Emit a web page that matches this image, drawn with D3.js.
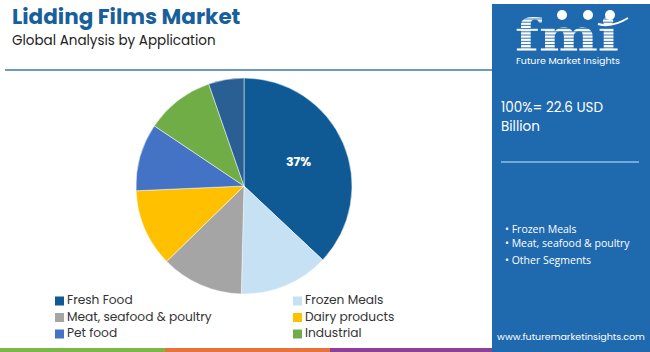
<!DOCTYPE html>
<html>
<head>
<meta charset="utf-8">
<script src="https://cdn.jsdelivr.net/npm/d3@7"></script>
<style>
  body { margin: 0; background: white; }
  svg { display: block; font-family: Poppins, "Open Sans", "DejaVu Sans", sans-serif; }
</style>
</head>
<body>
<div id="container"></div>
<script>
let w = 650;
let h = 352;

// values (share of 22.6 USD bn)
let segments = ["Fresh Food", "Frozen Meals", "Meat, seafood & poultry", "Dairy products", "Pet food", "Industrial", "Others"];
let shares = [37, 13.4, 12.3, 11.6, 10.1, 10.3, 5.3];
let colors = ["#0f5a94", "#c5e1f3", "#a5a5a5", "#ffc000", "#4473c5", "#70ad47", "#2a5f93"];
let legendItems = ["Fresh Food", "Frozen Meals", "Meat, seafood & poultry", "Dairy products", "Pet food", "Industrial"];
let bullets = ["Frozen Meals", "Meat, seafood & poultry", "Other Segments"];

let data = segments.map((s, i) => ({name: s, value: shares[i], color: colors[i]}));

let viz = d3.select("#container").append("svg")
              .attr("width", w)
              .attr("height", h)
;

// title
viz.append("text")
      .text("Lidding Films Market")
      .attr("x", 12).attr("y", 24)
      .attr("font-size", 21.5).attr("font-weight", "bold")
      .attr("fill", "#17609b")
;
viz.append("text")
      .text("Global Analysis by Application")
      .attr("x", 12).attr("y", 45)
      .attr("font-size", 13.5)
      .attr("fill", "#222")
;
viz.append("line")
      .attr("x1", 5).attr("x2", 493).attr("y1", 70).attr("y2", 70)
      .attr("stroke", "#3b78ad").attr("stroke-width", 1.5)
;

// pie
let cx = 244, cy = 186, r = 108;
let pie = d3.pie().value(d => d.value).sort(null);
let arc = d3.arc().innerRadius(0).outerRadius(r);
let g = viz.append("g").attr("transform", `translate(${cx},${cy})`);
let arcs = pie(data);
g.selectAll("path").data(arcs).enter()
    .append("path")
    .attr("d", arc)
    .attr("fill", d => d.data.color)
    .attr("stroke", "white")
    .attr("stroke-width", 0.5)
;
let labelArc = d3.arc().innerRadius(r * 0.55).outerRadius(r * 0.55);
g.append("text")
    .text(shares[0] + "%")
    .attr("transform", `translate(${labelArc.centroid(arcs[0])})`)
    .attr("text-anchor", "middle")
    .attr("dominant-baseline", "middle")
    .attr("font-size", 12.5).attr("font-weight", "bold")
    .attr("fill", "white")
;

// legend
let legend = viz.selectAll(".legend").data(legendItems).enter()
    .append("g")
    .attr("class", "legend")
    .attr("transform", (d, i) => `translate(${i % 2 == 0 ? 55 : 293},${301 + Math.floor(i / 2) * 16.5})`)
;
legend.append("rect")
    .attr("x", 0).attr("y", -4.5).attr("width", 9).attr("height", 9)
    .attr("fill", d => colors[segments.indexOf(d)])
;
legend.append("text")
    .text(d => d)
    .attr("x", 12).attr("y", 0)
    .attr("dominant-baseline", "middle")
    .attr("font-size", 12.2)
    .attr("fill", "#333")
;

// bottom bars
let barColors = ["#7ab648", "#e8733a", "#8e3f98"];
let barX = d3.scaleLinear().domain([0, 3]).range([0, 495]);
viz.selectAll(".bar").data(barColors).enter()
    .append("rect")
    .attr("x", (d, i) => barX(i)).attr("y", 348)
    .attr("width", barX(1) - barX(0)).attr("height", 4)
    .attr("fill", d => d)
;

// right panel
let panel = viz.append("g");
panel.append("rect")
    .attr("x", 492).attr("y", 4).attr("width", 158).attr("height", 348)
    .attr("fill", "#1f69ae")
;
panel.append("text")
    .text("fmi")
    .attr("x", 515).attr("y", 51)
    .attr("textLength", 104).attr("lengthAdjust", "spacingAndGlyphs")
    .attr("font-family", "DejaVu Serif, serif")
    .attr("font-size", 44).attr("font-weight", "bold")
    .attr("fill", "white")
;
// stripes over the logo
for (let y = 19; y < 52; y += 3.2) {
  panel.append("line")
      .attr("x1", 512).attr("x2", 625).attr("y1", y).attr("y2", y)
      .attr("stroke", "#1f69ae").attr("stroke-width", 0.9)
  ;
}
[562, 588, 610].forEach(x => {
  panel.append("circle").attr("cx", x).attr("cy", 15).attr("r", 5).attr("fill", "white");
});
panel.append("path")
    .attr("d", "M598,24 Q612,28 628,18")
    .attr("fill", "none").attr("stroke", "white").attr("stroke-width", 2)
;
panel.append("text")
    .text("Future Market Insights")
    .attr("x", 568).attr("y", 64)
    .attr("text-anchor", "middle")
    .attr("font-size", 9.5)
    .attr("fill", "white")
;
panel.append("text")
    .text("100%= 22.6 USD")
    .attr("x", 501).attr("y", 112)
    .attr("font-size", 13.5)
    .attr("fill", "white")
;
panel.append("text")
    .text("Billion")
    .attr("x", 501).attr("y", 131)
    .attr("font-size", 13.5)
    .attr("fill", "white")
;
panel.append("line")
    .attr("x1", 501).attr("x2", 639).attr("y1", 162).attr("y2", 162)
    .attr("stroke", "#8fc0e8").attr("stroke-width", 1.5)
;
panel.selectAll(".bullet").data(bullets).enter()
    .append("text")
    .attr("class", "bullet")
    .text(d => "\u2022 " + d)
    .attr("x", 505).attr("y", (d, i) => [233, 247, 264][i])
    .attr("font-family", "Open Sans, sans-serif")
    .attr("font-size", 10.5)
    .attr("fill", "white")
;
panel.append("text")
    .text("www.futuremarketinsights.com")
    .attr("x", 571).attr("y", 340)
    .attr("text-anchor", "middle")
    .attr("font-size", 9.5)
    .attr("fill", "white")
;
</script>
</body>
</html>
